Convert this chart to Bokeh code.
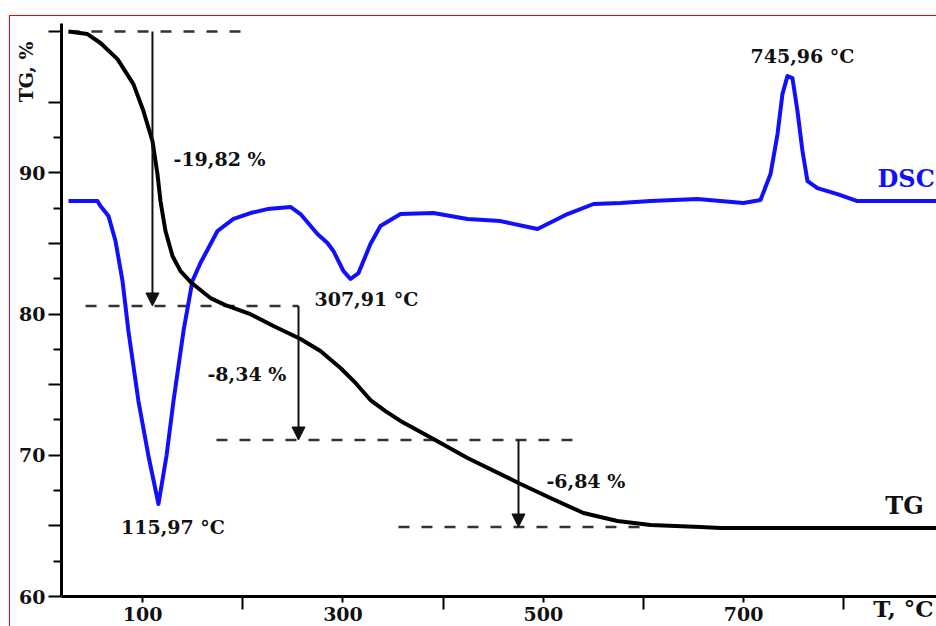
from bokeh.plotting import figure
from bokeh.models import Range1d, FixedTicker, Arrow, NormalHead
from bokeh.core.properties import value
from bokeh.embed import file_html
from bokeh.resources import INLINE

# ---------------- data ----------------
tg_T = [26.0, 44.9, 57.9, 74.9, 90.8, 100.8, 109.8, 114.8, 117.8, 122.8, 129.8, 137.8,
        147.8, 157.7, 167.7, 182.7, 207.6, 230.6, 257.6, 277.5, 297.5, 312.5, 327.4, 342.4,
        357.4, 390.3, 424.3, 475.2, 507.1, 540.1, 574.0, 607.0, 656.9, 676.8, 892.5]
tg_val = [100.0, 99.82, 99.19, 98.05, 96.28, 94.37, 92.25, 89.91, 88.0, 85.88, 84.11, 83.04,
          82.27, 81.70, 81.13, 80.63, 79.99, 79.15, 78.23, 77.38, 76.18, 75.12, 73.91, 73.13,
          72.43, 71.15, 69.81, 68.04, 66.97, 65.91, 65.35, 65.06, 64.92, 64.85, 64.85]

dsc_T = [26.0, 54.9, 57.9, 65.9, 72.9, 79.9, 85.8, 95.8, 105.8, 115.8, 123.8, 130.8, 140.8,
         149.7, 157.7, 174.7, 190.7, 207.6, 224.6, 247.6, 257.6, 274.5, 284.5, 290.5, 300.5,
         307.5, 315.5, 327.4, 337.4, 357.4, 390.3, 424.3, 457.2, 494.2, 524.1, 550.1, 577.0,
         607.0, 653.9, 699.8, 716.8, 726.8, 733.8, 738.7, 743.7, 748.7, 753.7, 758.7, 763.7,
         773.7, 793.6, 813.6, 892.5]
dsc_val = [88.0, 88.0, 87.65, 86.94, 85.17, 82.34, 78.80, 73.84, 69.95, 66.55, 69.95, 73.84,
           78.80, 82.34, 83.61, 85.88, 86.73, 87.15, 87.43, 87.58, 87.08, 85.67, 85.03, 84.46,
           83.04, 82.48, 82.90, 84.96, 86.23, 87.08, 87.15, 86.73, 86.58, 86.02, 87.08, 87.79,
           87.86, 88.0, 88.14, 87.86, 88.07, 89.91, 92.74, 95.57, 96.85, 96.71, 94.37, 91.54,
           89.41, 88.92, 88.49, 88.0, 88.0]

# step guide lines (level, from T, to T)
step_level = [100.0, 80.57, 71.08, 64.92]
step_x0 = [26.0, 43.0, 173.7, 355.4]
step_x1 = [197.7, 255.6, 532.0, 597.0]

# mass-loss arrows
arrow_T = [109.8, 255.6, 475.2]
arrow_from = [100.0, 80.57, 71.08]
arrow_to = [80.57, 71.08, 64.92]
loss_text = ["-19,82 %", "-8,34 %", "-6,84 %"]
loss_T = [130.8, 164.7, 503.1]
loss_y = [90.97, 75.75, 68.18]

# peak labels
peak_text = ["115,97 °C", "307,91 °C", "745,96 °C"]
peak_T = [130.3, 323.4, 758.7]
peak_y = [64.92, 81.06, 98.27]

x_major = [100, 300, 500, 700]
x_minor = [200, 400, 600, 800]
y_major = [60, 65, 70, 75, 80, 85, 90, 95, 100]
y_minor = [62.5, 67.5, 72.5, 77.5, 82.5, 87.5, 92.5]
y_labels = {60: "60", 70: "70", 80: "80", 90: "90"}

FONT = "DejaVu Serif"
NB = "\u00a0"

p = figure(width=936, height=626, output_backend="svg", toolbar_location=None,
           x_range=Range1d(19.0, 892.5), y_range=Range1d(60.0, 100.57),
           min_border_left=61, min_border_right=0, min_border_top=23, min_border_bottom=30)
p.background_fill_color = "white"
p.border_fill_color = None
p.outline_line_color = None
p.xgrid.visible = False
p.ygrid.visible = False
p.styles = {"background": "linear-gradient(red, red) 9px 15px / 1px 2000px no-repeat, "
                          "linear-gradient(red, red) 9px 15px / 2000px 1px no-repeat, white"}

# axes
for ax in (p.xaxis[0], p.yaxis[0]):
    ax.axis_line_width = 3
    ax.axis_line_color = "black"
    ax.major_tick_line_width = 2
    ax.minor_tick_line_width = 2
    ax.major_tick_line_color = "black"
    ax.minor_tick_line_color = "black"
    ax.major_tick_in = 0
    ax.minor_tick_in = 0
    ax.major_label_text_font = FONT
    ax.major_label_text_font_style = "bold"
    ax.major_label_text_font_size = "19px"
    ax.major_label_text_color = "#111111"
    ax.axis_label_text_font = FONT
    ax.axis_label_text_font_style = "bold"
    ax.axis_label_text_color = "#111111"

# x axis: title sits at the right end of the tick-label row (padded, centred label)
p.xaxis.ticker = FixedTicker(ticks=x_major, minor_ticks=x_minor)
p.xaxis.major_tick_out = 6
p.xaxis.minor_tick_out = 13
p.xaxis.major_label_standoff = -3
p.xaxis.axis_label = NB * 101 + "T, °C"
p.xaxis.axis_label_text_font_size = "23px"
p.xaxis.axis_label_align = "center"
p.xaxis.axis_label_standoff = -29

# y axis: title at the top of the axis (padded, centred label)
p.yaxis.ticker = FixedTicker(ticks=y_major, minor_ticks=y_minor)
p.yaxis.major_label_overrides = {t: y_labels.get(t, "") for t in y_major}
p.yaxis.major_tick_out = 13
p.yaxis.minor_tick_out = 8
p.yaxis.major_label_standoff = 3
p.yaxis.axis_label = NB * 72 + "TG, %"
p.yaxis.axis_label_text_font_size = "19px"
p.yaxis.axis_label_align = "center"
p.yaxis.axis_label_standoff = -21

# step guide lines
p.segment(x0=step_x0, x1=step_x1, y0=step_level, y1=step_level,
          line_color="#333333", line_width=2.5, line_dash="11 12")

# curves
p.line(dsc_T, dsc_val, line_color="#1010ff", line_width=4, line_join="round")
p.line(tg_T, tg_val, line_color="black", line_width=4, line_join="round")

# arrows
for xa, ya, yb in zip(arrow_T, arrow_from, arrow_to):
    p.add_layout(Arrow(x_start=xa, y_start=ya, x_end=xa, y_end=yb, line_width=2,
                       line_color="#111111",
                       end=NormalHead(size=13, fill_color="#111111", line_color="#111111")))

# texts
p.text(x=loss_T, y=loss_y, text=loss_text, text_font=value(FONT), text_font_style="bold",
       text_font_size="19px", text_align="left", text_baseline="middle", text_color="#111111")
p.text(x=peak_T, y=peak_y, text=peak_text, text_font=value(FONT), text_font_style="bold",
       text_font_size="19px", text_align="center", text_baseline="middle", text_color="#111111")
p.text(x=[833.6], y=[89.63], text=["DSC"], text_font=value(FONT), text_font_style="bold",
       text_font_size="24px", text_align="left", text_baseline="middle", text_color="#1010ff")
p.text(x=[860.5], y=[66.41], text=["TG"], text_font=value(FONT), text_font_style="bold",
       text_font_size="24px", text_align="center", text_baseline="middle", text_color="#111111")

open("out.html", "w").write(file_html(p, INLINE))
